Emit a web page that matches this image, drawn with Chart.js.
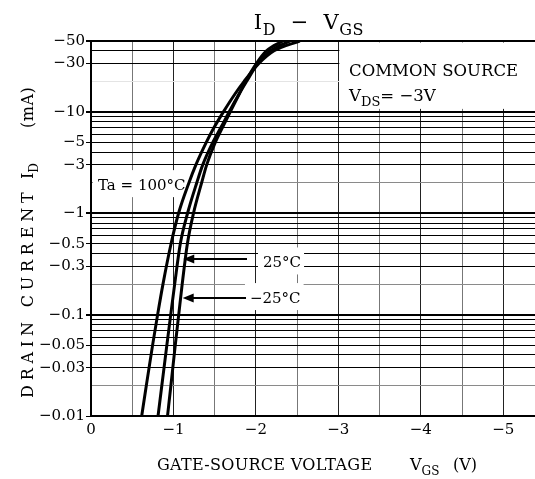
<!DOCTYPE html>
<html>
<head>
<meta charset="utf-8">
<title>ID - VGS</title>
<script src="https://cdn.jsdelivr.net/npm/chart.js@4.4.1/dist/chart.umd.min.js"></script>
<style>
  html, body { margin: 0; padding: 0; background: #fff; }
  #wrap { width: 535px; height: 479px; }
</style>
</head>
<body>
<div id="wrap"><canvas id="chart" width="535" height="479"></canvas></div>
<script>
// Drain current magnitude |ID| (mA) at which each curve is sampled
const currentLevels = [0.01, 0.02, 0.05, 0.1, 0.2, 0.5, 1, 2, 3, 5, 7, 10, 15, 20, 30, 40, 50];
// Gate-source voltage magnitude |VGS| (V) at those currents, per ambient temperature
const vgsTa100 = [0.615, 0.671, 0.747, 0.808, 0.873, 0.971, 1.062, 1.188, 1.272, 1.398, 1.492, 1.606, 1.746, 1.857, 2.036, 2.220, 2.532];
const vgsTa25  = [0.813, 0.859, 0.920, 0.967, 1.015, 1.083, 1.171, 1.283, 1.355, 1.477, 1.575, 1.675, 1.796, 1.888, 2.022, 2.176, 2.416];
const vgsTaM25 = [0.928, 0.969, 1.022, 1.064, 1.106, 1.169, 1.243, 1.342, 1.403, 1.507, 1.594, 1.689, 1.798, 1.875, 2.005, 2.128, 2.326];

// Axis ticks
const xTickValues = [0, 0.5, 1, 1.5, 2, 2.5, 3, 3.5, 4, 4.5, 5];
const yTickValues = [
  0.01, 0.02, 0.03, 0.04, 0.05, 0.06, 0.07, 0.08, 0.09,
  0.1, 0.2, 0.3, 0.4, 0.5, 0.6, 0.7, 0.8, 0.9,
  1, 2, 3, 4, 5, 6, 7, 8, 9,
  10, 20, 30, 40, 50
];
const yLabelValues = [50, 30, 10, 5, 3, 1, 0.5, 0.3, 0.1, 0.05, 0.03, 0.01];

const FONT = '"DejaVu Serif", "Liberation Serif", serif';
const MINUS = '\u2212';

function toPoints(vs) {
  return vs.map((v, i) => ({ x: v, y: currentLevels[i] }));
}

// Draws a run of text pieces; pieces flagged sub are smaller and lowered
function drawRich(ctx, parts, x, y, size, align, spacing) {
  const subSize = Math.round(size * 0.76);
  ctx.letterSpacing = (spacing || 0) + 'px';
  let total = 0;
  const widths = parts.map(p => {
    ctx.font = (p.sub ? subSize : size) + 'px ' + FONT;
    const w = ctx.measureText(p.t).width;
    total += w;
    return w;
  });
  let cx = align === 'center' ? x - total / 2 : (align === 'right' ? x - total : x);
  ctx.textAlign = 'left';
  ctx.textBaseline = 'alphabetic';
  parts.forEach((p, i) => {
    ctx.font = (p.sub ? subSize : size) + 'px ' + FONT;
    ctx.fillText(p.t, cx, y + (p.sub ? size * 0.3 : 0));
    cx += widths[i];
  });
  ctx.letterSpacing = '0px';
  return total;
}

function textWidth(ctx, parts, size) {
  const subSize = Math.round(size * 0.76);
  let total = 0;
  parts.forEach(p => {
    ctx.font = (p.sub ? subSize : size) + 'px ' + FONT;
    total += ctx.measureText(p.t).width;
  });
  return total;
}

// In-plot notes: label positions in (|VGS| V, |ID| mA)
const curveLabels = [
  { parts: [{ t: 'Ta = 100°C' }], v: 0.085, i: 1.69 },
  { parts: [{ t: '25°C' }], v: 2.086, i: 0.292 },
  { parts: [{ t: MINUS + '25°C' }], v: 1.928, i: 0.130 }
];
const arrows = [
  { from: 1.892, to: 1.119, i: 0.352 },
  { from: 1.880, to: 1.112, i: 0.1446 }
];
const conditionLines = [
  { parts: [{ t: 'COMMON SOURCE' }], v: 3.13, i: 22.4 },
  { parts: [{ t: 'V' }, { t: 'DS', sub: true }, { t: '= ' + MINUS + '3V' }], v: 3.13, i: 12.7 }
];

const LABEL_SIZE = 15;

const notesPlugin = {
  id: 'notes',
  beforeDatasetsDraw(chart) {
    const { ctx, chartArea, scales: { x, y } } = chart;
    ctx.save();
    ctx.fillStyle = '#fff';
    // panel for the measurement conditions
    const left = x.getPixelForValue(3) + 1;
    const top = chartArea.top + 1.5;
    ctx.fillRect(left, top, chartArea.right - left, y.getPixelForValue(10.7) - top);
    // backgrounds of the temperature labels
    curveLabels.forEach(l => {
      const px = x.getPixelForValue(l.v);
      const py = y.getPixelForValue(l.i);
      const w = textWidth(ctx, l.parts, LABEL_SIZE);
      ctx.fillRect(px - 5, py - 20, w + 8, 27);
    });
    ctx.restore();
  },
  afterDatasetsDraw(chart) {
    const { ctx, scales: { x, y } } = chart;
    ctx.save();
    ctx.fillStyle = '#000';
    ctx.strokeStyle = '#000';
    curveLabels.forEach(l => {
      drawRich(ctx, l.parts, x.getPixelForValue(l.v), y.getPixelForValue(l.i), LABEL_SIZE, 'left');
    });
    conditionLines.forEach(l => {
      drawRich(ctx, l.parts, x.getPixelForValue(l.v), y.getPixelForValue(l.i), 16.5, 'left');
    });
    arrows.forEach(a => {
      const x0 = x.getPixelForValue(a.from);
      const x1 = x.getPixelForValue(a.to);
      const py = Math.round(y.getPixelForValue(a.i));
      ctx.lineWidth = 2;
      ctx.beginPath();
      ctx.moveTo(x0, py);
      ctx.lineTo(x1 + 9, py);
      ctx.stroke();
      ctx.beginPath();
      ctx.moveTo(x1, py);
      ctx.lineTo(x1 + 11, py - 4.5);
      ctx.lineTo(x1 + 11, py + 4.5);
      ctx.closePath();
      ctx.fill();
    });
    ctx.restore();
  },
  afterDraw(chart) {
    const { ctx } = chart;
    ctx.save();
    ctx.fillStyle = '#000';
    // chart title
    drawRich(ctx, [
      { t: 'I' }, { t: 'D', sub: true }, { t: '  ' + MINUS + '  ' }, { t: 'V' }, { t: 'GS', sub: true }
    ], 309, 29, 21, 'center', 0.6);
    // x-axis title
    drawRich(ctx, [{ t: 'GATE-SOURCE VOLTAGE' }], 157, 470, 16, 'left', 0.3);
    drawRich(ctx, [{ t: 'V' }, { t: 'GS', sub: true }], 410, 470, 16, 'left');
    drawRich(ctx, [{ t: '(V)' }], 453, 470, 16, 'left');
    // y-axis title, read bottom to top
    ctx.translate(33, 0);
    ctx.rotate(-Math.PI / 2);
    drawRich(ctx, [{ t: 'DRAIN CURRENT' }], -398, 0, 16, 'left', 4.8);
    drawRich(ctx, [{ t: 'I' }, { t: 'D', sub: true }], -179, 0, 16, 'left');
    drawRich(ctx, [{ t: '(mA)' }], -128, 0, 16, 'left', 0.5);
    ctx.restore();
  }
};

const curveStyle = {
  borderColor: '#000',
  borderWidth: 3,
  pointRadius: 0,
  fill: false,
  cubicInterpolationMode: 'monotone'
};

new Chart(document.getElementById('chart'), {
  type: 'line',
  data: {
    datasets: [
      Object.assign({ label: 'Ta = 100°C', data: toPoints(vgsTa100) }, curveStyle),
      Object.assign({ label: 'Ta = 25°C', data: toPoints(vgsTa25) }, curveStyle),
      Object.assign({ label: 'Ta = -25°C', data: toPoints(vgsTaM25) }, curveStyle)
    ]
  },
  options: {
    responsive: false,
    animation: false,
    devicePixelRatio: 1,
    layout: { padding: { top: 41, left: 0, right: 0, bottom: 0 } },
    plugins: {
      legend: { display: false },
      tooltip: { enabled: false },
      title: { display: false }
    },
    scales: {
      x: {
        type: 'linear',
        min: 0,
        max: 5.385,
        afterBuildTicks(scale) {
          scale.ticks = xTickValues.map(v => ({ value: v }));
        },
        afterFit(scale) { scale.height = 63; },
        border: { display: true, color: '#000', width: 2 },
        grid: {
          color: c => (c.tick && c.tick.value % 1 === 0) ? '#222' : '#777',
          lineWidth: 1,
          drawTicks: false
        },
        ticks: {
          autoSkip: false,
          maxRotation: 0,
          padding: 5,
          color: '#000',
          font: { family: FONT, size: 15 },
          callback: v => v % 1 !== 0 ? '' : (v === 0 ? '0' : MINUS + v)
        }
      },
      y: {
        type: 'logarithmic',
        min: 0.01,
        max: 50,
        afterBuildTicks(scale) {
          scale.ticks = yTickValues.map(v => ({ value: v }));
        },
        afterFit(scale) { scale.width = 91; },
        border: { display: true, color: '#000', width: 2 },
        grid: {
          color: c => {
            const v = c.tick ? c.tick.value : 0;
            if (v === 20) return '#e4e4e4';
            if (v === 2 || v === 0.2 || v === 0.02) return '#8a8a8a';
            return '#000';
          },
          lineWidth: c => {
            const v = c.tick ? c.tick.value : 0;
            return (v === 0.1 || v === 1 || v === 10 || v === 50) ? 2 : 1;
          },
          tickLength: 5,
          tickColor: c => (c.tick && yLabelValues.includes(c.tick.value)) ? '#000' : 'rgba(0,0,0,0)'
        },
        ticks: {
          autoSkip: false,
          padding: 1,
          color: '#000',
          font: { family: FONT, size: 15 },
          callback: v => yLabelValues.includes(v) ? MINUS + v : ''
        }
      }
    }
  },
  plugins: [notesPlugin]
});
</script>
</body>
</html>
